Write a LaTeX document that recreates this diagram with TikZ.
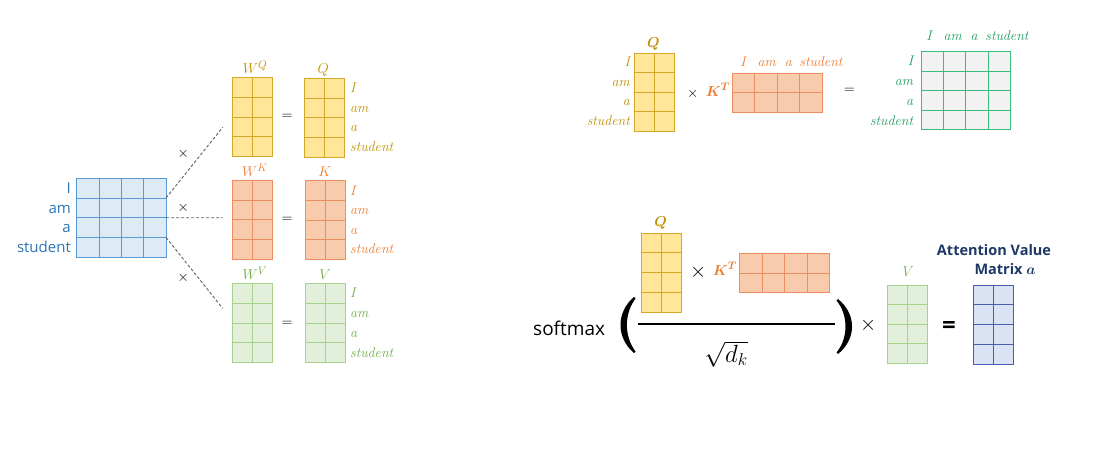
\documentclass[tikz,border=0pt]{standalone}
\usepackage{fontspec}
\usepackage{bm}
\setsansfont{Open Sans}
\usetikzlibrary{calc}
\definecolor{yfill}{HTML}{FFE699}
\definecolor{ydraw}{HTML}{D6A829}
\definecolor{ytext}{HTML}{BF9000}
\definecolor{ofill}{HTML}{F8CBAD}
\definecolor{odraw}{HTML}{EC8F5E}
\definecolor{otext}{HTML}{ED7D31}
\definecolor{gfill}{HTML}{E2EFDA}
\definecolor{gdraw}{HTML}{A9D18E}
\definecolor{gtext}{HTML}{70AD47}
\definecolor{bfill}{HTML}{DDEBF7}
\definecolor{bdraw}{HTML}{5B9BD5}
\definecolor{btext}{HTML}{2E75B6}
\definecolor{rfill}{HTML}{F2F2F2}
\definecolor{rdraw}{HTML}{3DBB7E}
\definecolor{rtext}{HTML}{1E9E5E}
\definecolor{afill}{HTML}{DAE3F3}
\definecolor{adraw}{HTML}{4A5DB0}
\definecolor{atext}{HTML}{1F3864}
\definecolor{dashgray}{HTML}{606060}

\newcommand\mgrid[4]{%
  \foreach \i in {1,...,#2}{\ifnum\i<#2\relax
    \pgfmathsetmacro\ff{\i/#2}
    \draw[#4, line width=0.8pt] ($(#1.north west)!\ff!(#1.north east)$) -- ($(#1.south west)!\ff!(#1.south east)$);\fi}
  \foreach \j in {1,...,#3}{\ifnum\j<#3\relax
    \pgfmathsetmacro\ff{\j/#3}
    \draw[#4, line width=0.8pt] ($(#1.north west)!\ff!(#1.south west)$) -- ($(#1.north east)!\ff!(#1.south east)$);\fi}
}

\tikzset{
  mat/.style={rectangle, inner sep=0pt, outer sep=0pt, line width=0.8pt},
  ymat/.style={mat, fill=yfill, draw=ydraw},
  omat/.style={mat, fill=ofill, draw=odraw},
  gmat/.style={mat, fill=gfill, draw=gdraw},
  bmat/.style={mat, fill=bfill, draw=bdraw},
  rmat/.style={mat, fill=rfill, draw=rdraw},
  amat/.style={mat, fill=afill, draw=adraw},
  tall/.style={minimum width=40pt, minimum height=79pt},
  wide/.style={minimum width=90pt, minimum height=39pt},
  sq/.style={minimum width=89.5pt, minimum height=78pt},
  ilab/.style={inner sep=0pt, font=\fontsize{14}{16}\selectfont\itshape},
  slab/.style={inner sep=0pt, font=\sffamily\fontsize{15}{17}\selectfont, text=btext},
  ttl/.style={inner sep=0pt, font=\fontsize{15.5}{18}\selectfont},
  op/.style={inner sep=0pt, font=\fontsize{15}{17}\selectfont},
  bigop/.style={inner sep=0pt, font=\fontsize{20}{22}\selectfont},
  dashline/.style={draw=dashgray, line width=0.9pt, dash pattern=on 3pt off 2pt},
}

\begin{document}
\begin{tikzpicture}[x=1pt,y=-1pt]
\useasboundingbox (0,0) rectangle (1101,464);
\fill[white] (0,0) rectangle (1101,464);

% ---------- left part ----------
\node[bmat, minimum width=89.5pt, minimum height=79pt] (inp) at (121.3,217.7) {};
\mgrid{inp}{4}{4}{bdraw}
\node[slab, anchor=base east] (inI) at (71,193.2) {I};
\node[slab, anchor=base east] (inAm) at (71,213.0) {am};
\node[slab, anchor=base east] (inA) at (71,232.8) {a};
\node[slab, anchor=base east] (inSt) at (71,252.5) {student};

\node[ymat, tall] (wq) at (252,117) {};
\mgrid{wq}{2}{4}{ydraw}
\node[ymat, tall] (q) at (324.5,117.8) {};
\mgrid{q}{2}{4}{ydraw}
\node[omat, tall] (wk) at (252,219.7) {};
\mgrid{wk}{2}{4}{odraw}
\node[omat, tall] (k) at (325,220) {};
\mgrid{k}{2}{4}{odraw}
\node[gmat, tall] (wv) at (252,323) {};
\mgrid{wv}{2}{4}{gdraw}
\node[gmat, tall] (v) at (325,323) {};
\mgrid{v}{2}{4}{gdraw}

\node[ttl, text=ytext, anchor=base] (twq) at (255,73.3) {$W^{Q}$};
\node[ttl, text=ytext, anchor=base] (tq) at (323.3,73) {$Q$};
\node[ttl, text=otext, anchor=base] (twk) at (255,176.5) {$W^{K}$};
\node[ttl, text=otext, anchor=base] (tk) at (325,176.5) {$K$};
\node[ttl, text=gtext, anchor=base] (twv) at (255,279.5) {$W^{V}$};
\node[ttl, text=gtext, anchor=base] (tv) at (325,279.5) {$V$};

\node[op] (eq1) at (287,117) {$=$};
\node[op] (eq2) at (287,220) {$=$};
\node[op] (eq3) at (287,323.5) {$=$};

\foreach \w/\yy [count=\n] in {I/92.4,am/112.1,a/131.9,student/151.6}
  \node[ilab, text=ytext, anchor=base west] (ql\n) at (350,\yy) {\w};
\foreach \w/\yy [count=\n] in {I/195.0,am/214.5,a/234.0,student/253.5}
  \node[ilab, text=otext, anchor=base west] (kl\n) at (350,\yy) {\w};
\foreach \w/\yy [count=\n] in {I/297.4,am/317.3,a/337.1,student/357.0}
  \node[ilab, text=gtext, anchor=base west] (vl\n) at (350,\yy) {\w};

\coordinate (d1s) at ($(inp.north east)!0.25!(inp.south east)$);
\coordinate (d2s) at ($(inp.north east)!0.5!(inp.south east)$);
\coordinate (d3s) at ($(inp.north east)!0.75!(inp.south east)$);
\coordinate (d1e) at (222.7,127.3);
\coordinate (d2e) at (222.7,217.7);
\coordinate (d3e) at (222.7,308.3);
\draw[dashline] (d1s) -- (d1e);
\draw[dashline] (d2s) -- (d2e);
\draw[dashline] (d3s) -- (d3e);
\node[op] (x1) at (183.3,154) {$\times$};
\node[op] (x2) at (183.3,207.7) {$\times$};
\node[op] (x3) at (183.3,277.7) {$\times$};

% ---------- top right ----------
\node[ymat, minimum width=40pt, minimum height=78pt] (q2) at (654,92.2) {};
\mgrid{q2}{2}{4}{ydraw}
\node[ttl, text=ytext, anchor=base] (tq2) at (653.3,47) {$\bm{Q}$};
\foreach \w/\yy [count=\n] in {I/66.5,am/86,a/105.5,student/125.5}
  \node[ilab, text=ytext, anchor=base east] (q2l\n) at (630,\yy) {\w};
\node[op] (x4) at (692.7,94) {$\times$};
\node[ttl, text=otext, anchor=base] (tkt) at (718,96) {$\bm{K^{T}}$};
\node[omat, wide] (kt) at (777.3,92.8) {};
\mgrid{kt}{4}{2}{odraw}
\foreach \w/\xx [count=\n] in {I/743,am/766.7,a/788.3,student/821}
  \node[ilab, text=otext, anchor=base] (ktl\n) at (\xx,66.5) {\w};
\node[op] (eq4) at (849.3,91) {$=$};
\node[rmat, sq] (res) at (965.8,90.5) {};
\mgrid{res}{4}{4}{rdraw}
\foreach \w/\xx [count=\n] in {I/929,am/952.7,a/974,student/1007}
  \node[ilab, text=rtext, anchor=base] (rc\n) at (\xx,40.8) {\w};
\foreach \w/\yy [count=\n] in {I/65,am/85,a/105,student/125}
  \node[ilab, text=rtext, anchor=base east] (rr\n) at (913.3,\yy) {\w};

% ---------- bottom right ----------
\node[inner sep=0pt, anchor=base west, font=\sffamily\fontsize{19}{21}\selectfont] (sm) at (533,335) {softmax};
\fill (634,297) .. controls (616,312) and (616,338) .. (634,353) -- (635.5,351.5) .. controls (624,336) and (624,314) .. (635.5,298.5) -- cycle;
\fill (838,299) .. controls (856.7,314) and (856.7,339) .. (838,354) -- (836.5,352.5) .. controls (848.5,338) and (848.5,315) .. (836.5,300.5) -- cycle;
\node[ymat, tall] (q3) at (661,272.5) {};
\mgrid{q3}{2}{4}{ydraw}
\node[ttl, text=ytext, anchor=base] (tq3) at (660.7,226.5) {$\bm{Q}$};
\node[bigop] (x5) at (698.3,272.7) {$\times$};
\node[ttl, text=otext, anchor=base] (tkt3) at (725,275) {$\bm{K^{T}}$};
\node[omat, minimum width=90pt, minimum height=39.4pt] (kt3) at (784.4,273) {};
\mgrid{kt3}{4}{2}{odraw}
\coordinate (fl) at (638,324.3);
\coordinate (fr) at (835,324.3);
\draw[line width=1.7pt] (fl) -- (fr);
\node[inner sep=0pt, font=\fontsize{27}{29}\selectfont] (dk) at (726,354) {$\sqrt{d_k}$};
\node[bigop] (x6) at (868.3,325) {$\times$};
\node[ttl, text=gtext, anchor=base] (tv3) at (908.3,276.7) {$V$};
\node[gmat, minimum width=40pt, minimum height=78.3pt] (v3) at (907.7,324.2) {};
\mgrid{v3}{2}{4}{gdraw}
\node[inner sep=0pt, font=\sffamily\bfseries\fontsize{24}{26}\selectfont] (eq5) at (949,327) {=};
\node[amat, tall] (att) at (993.3,324.5) {};
\mgrid{att}{2}{4}{adraw}
\node[inner sep=0pt, font=\sffamily\bfseries\fontsize{14.5}{17}\selectfont, text=atext] (att1) at (994,250) {Attention Value};
\node[inner sep=0pt, font=\sffamily\bfseries\fontsize{14.5}{17}\selectfont, text=atext] (att2) at (1005,269.3) {Matrix $\bm{a}$};
\end{tikzpicture}
\end{document}
